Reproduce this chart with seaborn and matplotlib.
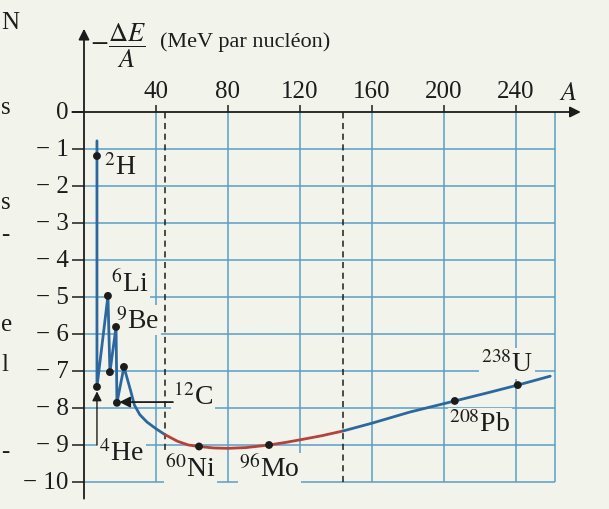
"""
Aston curve: binding energy per nucleon (-dE/A) versus mass number A,
redrawn as in the textbook figure (blue grid, red stability zone).
"""

import matplotlib

matplotlib.use("Agg")
import matplotlib.pyplot as plt
import seaborn as sns

# ---------------------------------------------------------------------------
# Data (A as drawn on the figure, energy in MeV/nucleon)
# ---------------------------------------------------------------------------

CURVE_A = [7.2, 7.2, 13.3, 14.4, 17.8, 18.3, 22.2, 26, 28, 31, 35, 40, 45,
           52, 58, 63.9, 72, 80, 90, 102.8, 112, 120, 132, 144,
           160, 181, 206, 225, 241, 259]
CURVE_E = [-0.78, -7.43, -4.97, -7.03, -5.81, -7.86, -6.89, -7.55, -7.92, -8.18, -8.38, -8.56, -8.72,
           -8.9, -9.0, -9.04, -9.08, -9.09, -9.07, -9.0, -8.93, -8.86, -8.75, -8.62,
           -8.41, -8.11, -7.81, -7.58, -7.38, -7.14]

POINT_A = [7.2, 7.2, 13.3, 14.4, 17.8, 18.3, 22.2, 63.9, 102.8, 206, 241]
POINT_E = [-1.19, -7.43, -4.97, -7.03, -5.81, -7.86, -6.89, -9.04, -9.0, -7.81, -7.38]

NUCLEI = ["$^{2}$H", "$^{4}$He", "$^{6}$Li", "$^{9}$Be", "$^{12}$C",
          "$^{60}$Ni", "$^{96}$Mo", "$^{208}$Pb", "$^{238}$U"]

STABLE_ZONE = (45, 144)          # dashed limits, red part of the curve
TICKS_A = [40, 80, 120, 160, 200, 240]
TICKS_E = [0, -1, -2, -3, -4, -5, -6, -7, -8, -9, -10]
GRID_RIGHT = 261.7

BG = "#f2f4eb"
GRID = "#5a9fc6"
BLUE = "#2d67a0"
RED = "#b5423a"
INK = "#1c1c1c"

sns.set_theme(style="white")
plt.rcParams["font.family"] = ["Liberation Serif", "DejaVu Serif"]
plt.rcParams["mathtext.fontset"] = "stix"

fig = plt.figure(figsize=(6.09, 5.10), dpi=100, facecolor=BG)
ax = fig.add_axes([0, 0, 1, 1], facecolor=BG)
# 1.8 px per unit of A, 37 px per MeV; origin at pixel (84, 113)
ax.set_xlim(-84 / 1.8, (609 - 84) / 1.8)
ax.set_ylim((113 - 510) / 37, 113 / 37)
ax.axis("off")

# ---------------------------------------------------------------------------
# Grid, dashed limits, axes with arrows
# ---------------------------------------------------------------------------
ax.hlines(TICKS_E[1:], 0, GRID_RIGHT, color=GRID, lw=1.1, zorder=1)
ax.vlines(TICKS_A + [GRID_RIGHT], TICKS_E[-1], 0, color=GRID, lw=1.1, zorder=1)
ax.vlines(list(STABLE_ZONE), TICKS_E[-1], 0, color=INK, lw=1.1,
          linestyles=(0, (4, 3)), zorder=2)

arrow = dict(arrowstyle="-|>", color=INK, lw=1.3, mutation_scale=16,
             shrinkA=0, shrinkB=0)
ax.annotate("", xy=(276, 0), xytext=(-6.5, 0), arrowprops=arrow, zorder=5)
ax.annotate("", xy=(0, 2.25), xytext=(0, -10.45), arrowprops=arrow, zorder=5)

ax.hlines(TICKS_E, -6.5, 0, color=INK, lw=1.1)
ax.vlines(TICKS_A, 0, 0.19, color=INK, lw=1.1)

for e in TICKS_E:
    lab = "0" if e == 0 else f"\u2212 {abs(e)}"
    ax.text(-8.6, e, lab, ha="right", va="center", fontsize=18, color=INK)
for a in TICKS_A:
    ax.text(a, 0.26, str(a), ha="center", va="bottom", fontsize=18, color=INK)

ax.text(3.5, 1.81, r"$-\dfrac{\Delta E}{A}$", ha="left", va="center",
        fontsize=19, color=INK)
ax.text(42, 1.92, "(MeV par nucléon)", ha="left", va="center",
        fontsize=16, color=INK)
ax.text(269, 0.52, "$A$", ha="center", va="center", fontsize=19, color=INK)

# ---------------------------------------------------------------------------
# Curve: blue outside the stability zone, red inside
# ---------------------------------------------------------------------------
lo, hi = STABLE_ZONE
for keep, color in [(lambda a: a <= lo, BLUE),
                    (lambda a: lo <= a <= hi, RED),
                    (lambda a: a >= hi, BLUE)]:
    # keep the original order (the light nuclei part zigzags)
    xs = [a for a in CURVE_A if keep(a)]
    ys = [e for a, e in zip(CURVE_A, CURVE_E) if keep(a)]
    sns.lineplot(x=xs, y=ys, sort=False, estimator=None, color=color,
                 lw=2.0, ax=ax, zorder=4)

sns.scatterplot(x=POINT_A, y=POINT_E, color=INK, s=32, edgecolor="none",
                ax=ax, zorder=6)

# ---------------------------------------------------------------------------
# Labels of the nuclei
# ---------------------------------------------------------------------------
box = dict(boxstyle="square,pad=0.06", facecolor=BG, edgecolor="none")
label_pos = [(11.0, -1.47), (8.4, -9.2), (15.0, -4.63), (17.8, -5.63), (49.4, -7.68),
             (45.2, -9.63), (86.3, -9.63), (203, -8.41), (220.5, -6.8)]
for name, (la, le) in zip(NUCLEI, label_pos):
    ax.text(la, le, name, ha="left", va="center", fontsize=20, color=INK,
            bbox=box, zorder=3)

# arrows pointing to 4He and 12C
ax.annotate("", xy=(7.2, -7.55), xytext=(7.2, -9.0),
            arrowprops=dict(arrowstyle="-|>", color=INK, lw=1.0,
                            mutation_scale=14, shrinkA=0, shrinkB=0), zorder=5)
ax.annotate("", xy=(19.6, -7.84), xytext=(49.4, -7.84),
            arrowprops=dict(arrowstyle="-|>", color=INK, lw=1.3,
                            mutation_scale=16, shrinkA=0, shrinkB=0), zorder=5)

# fragments of the neighbouring page on the left edge
for ch, y in [("N", 23), ("s", 108), ("s", 203), ("-", 235), ("e", 325), ("l", 365), ("-", 452)]:
    fig.text(1 / 609, 1 - y / 510, ch, ha="left", va="center", fontsize=18, color=INK)

fig.savefig("out.png", dpi=100, facecolor=BG)
